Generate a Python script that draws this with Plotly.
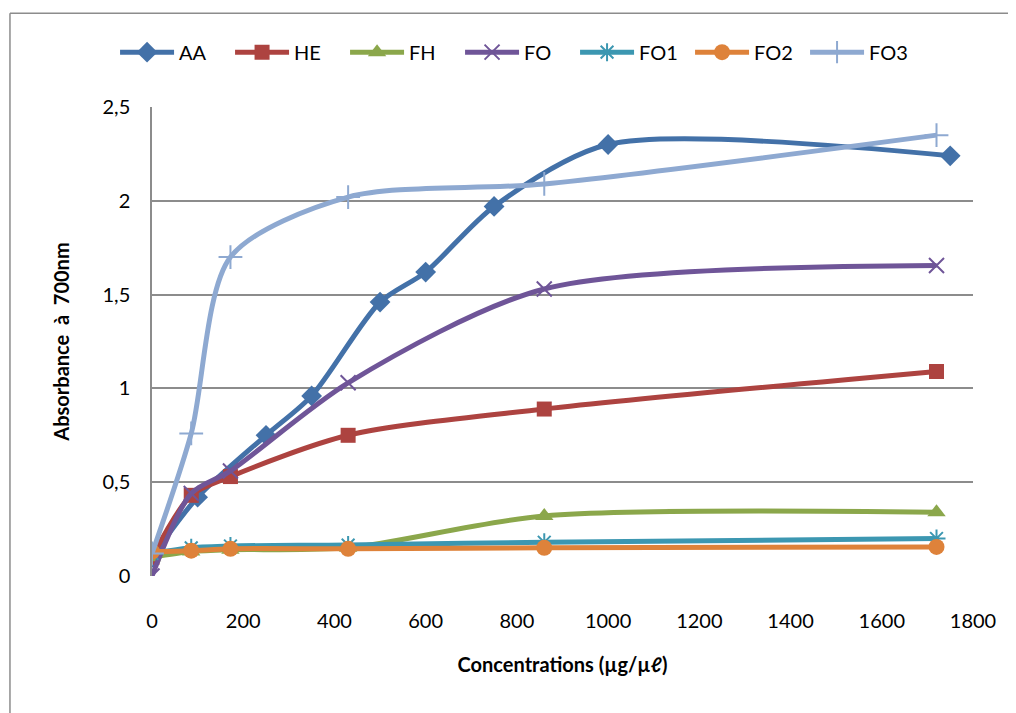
import plotly.graph_objects as go

# ---- data ----
x_common = [0, 86, 172, 430, 860, 1720]
x_aa = [0, 100, 250, 350, 500, 600, 750, 1000, 1750]

aa = [0.10, 0.42, 0.75, 0.96, 1.46, 1.62, 1.97, 2.30, 2.24]
he = [0.10, 0.43, 0.53, 0.75, 0.89, 1.09]
fh = [0.10, 0.13, 0.14, 0.15, 0.32, 0.34]
fo = [0.00, 0.44, 0.56, 1.03, 1.53, 1.655]
fo1 = [0.12, 0.15, 0.16, 0.165, 0.18, 0.20]
fo2 = [0.13, 0.135, 0.145, 0.145, 0.15, 0.155]
fo3 = [0.12, 0.76, 1.70, 2.02, 2.09, 2.35]

x_ticks = [0, 200, 400, 600, 800, 1000, 1200, 1400, 1600, 1800]
x_ticktext = ["0", "200", "400", "600", "800", "1000", "1200", "1400", "1600", "1800"]
y_ticks = [0, 0.5, 1, 1.5, 2, 2.5]
y_ticktext = ["0", "0,5", "1", "1,5", "2", "2,5"]

FONT = "Lato"

series = [
    ("AA", x_aa, aa, "#4371a8", dict(symbol="diamond", size=16)),
    ("HE", x_common, he, "#ad4340", dict(symbol="square", size=15)),
    ("FH", x_common, fh, "#8ba74b", dict(symbol="triangle-up", size=16)),
    ("FO", x_common, fo, "#6f5598", dict(symbol="x-thin-open", size=15, line=dict(width=2, color="#6f5598"))),
    ("FO1", x_common, fo1, "#3c97b1", dict(symbol="asterisk-open", size=15, line=dict(width=2, color="#3c97b1"))),
    ("FO2", x_common, fo2, "#de823a", dict(symbol="circle", size=16)),
    ("FO3", x_common, fo3, "#8ea9d1", dict(symbol="cross-thin-open", size=17, line=dict(width=2, color="#8ea9d1"))),
]

fig = go.Figure()
for name, xs, ys, col, mk in series:
    m = dict(color=col)
    m.update(mk)
    fig.add_trace(go.Scatter(
        x=xs, y=ys, name=name, mode="lines+markers",
        line=dict(color=col, width=5, shape="spline", smoothing=0.8),
        marker=m,
    ))

fig.update_layout(
    width=1016, height=713,
    paper_bgcolor="white", plot_bgcolor="white",
    margin=dict(l=144, r=51, t=99, b=145, autoexpand=False),
    font=dict(family=FONT, size=20, color="black"),
    showlegend=True,
    legend=dict(orientation="h", x=-0.045, xanchor="left", y=1.117, yanchor="middle",
                font=dict(family=FONT, size=20), entrywidth=46, entrywidthmode="pixels",
                itemwidth=54, tracegroupgap=0, bgcolor="rgba(0,0,0,0)"),
    xaxis=dict(range=[0, 1800], tickvals=x_ticks, ticktext=x_ticktext,
               showgrid=False, zeroline=False, showline=False,
               ticks="", ticklabelstandoff=31,
               title=dict(text="<b>Concentrations (µg/µℓ)</b>", font=dict(family=FONT, size=20), standoff=26)),
    yaxis=dict(range=[0, 2.5], tickvals=y_ticks, ticktext=y_ticktext,
               showgrid=True, gridcolor="#8c8c8c", gridwidth=1.5,
               zeroline=False, showline=True, linecolor="#8c8c8c", linewidth=1.5,
               ticks="", ticklabelstandoff=16,
               title=dict(text="<b>Absorbance  à  700nm</b>", font=dict(family=FONT, size=20), standoff=28)),
)

# outer chart border (top and left edges, as in the spreadsheet export)
fig.add_shape(type="line", xref="paper", yref="paper", x0=-0.173, x1=1.3, y0=1.2, y1=1.2,
              line=dict(color="#8c8c8c", width=1.5), layer="below")
fig.add_shape(type="line", xref="paper", yref="paper", x0=-0.173, x1=-0.173, y0=-0.8, y1=1.2,
              line=dict(color="#8c8c8c", width=1.5), layer="below")

fig.write_html("out.html")
